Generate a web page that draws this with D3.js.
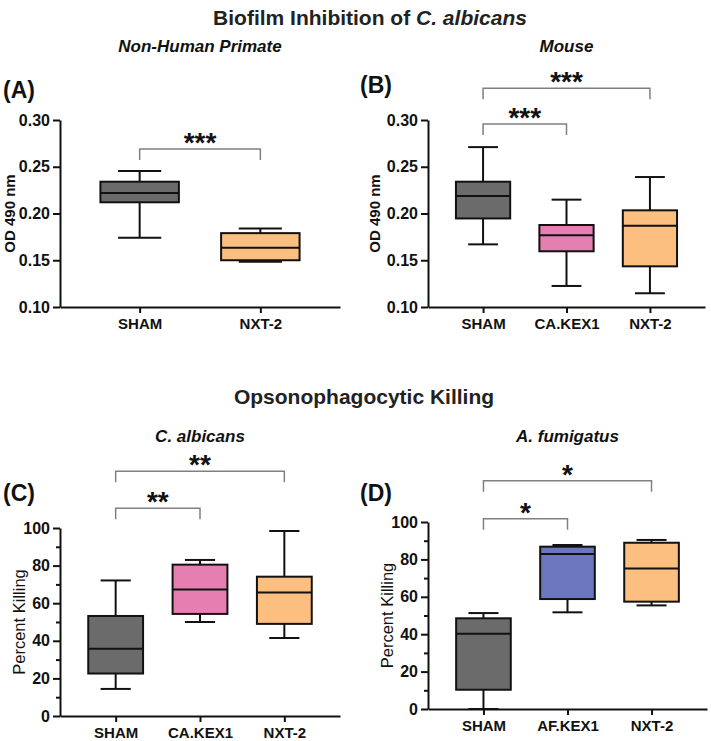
<!DOCTYPE html>
<html>
<head>
<meta charset="utf-8">
<script src="https://cdn.jsdelivr.net/npm/d3@7"></script>
<style>
    body { margin: 0; background: #fff; }
    svg { display: block; font-family: 'Liberation Sans', Arial, sans-serif; }
</style>
</head>
<body>
<div class="graph"></div>
<script>
// box stats: [min, q1, median, q3, max]
var catsA = ['SHAM', 'NXT-2'];
var statsA = [
    [0.174, 0.212, 0.222, 0.234, 0.2455],
    [0.1485, 0.150, 0.1635, 0.179, 0.184]
];
var catsB = ['SHAM', 'CA.KEX1', 'NXT-2'];
var statsB = [
    [0.167, 0.1947, 0.2187, 0.234, 0.271],
    [0.1225, 0.1596, 0.1767, 0.1877, 0.2148],
    [0.1147, 0.1435, 0.187, 0.2034, 0.239]
];
var catsC = ['SHAM', 'CA.KEX1', 'NXT-2'];
var statsC = [
    [14.4, 22.6, 35.8, 53.2, 72.1],
    [50.0, 54.3, 67.3, 80.5, 83.0],
    [41.5, 49.0, 65.7, 74.1, 98.4]
];
var catsD = ['SHAM', 'AF.KEX1', 'NXT-2'];
var statsD = [
    [0, 10.3, 40.3, 48.5, 51.3],
    [51.7, 58.8, 82.9, 86.8, 87.7],
    [55.4, 57.4, 75.2, 88.9, 90.4]
];
var fillsA = ['#6b6b6b', '#fdbf80'];
var fillsB = ['#6b6b6b', '#e67fb1', '#fdbf80'];
var fillsC = ['#6b6b6b', '#e67fb1', '#fdbf80'];
var fillsD = ['#6b6b6b', '#6c76bd', '#fdbf80'];

var odTicks = [0.10, 0.15, 0.20, 0.25, 0.30];
var pctTicks = [0, 20, 40, 60, 80, 100];
var pctMinor = [10, 30, 50, 70, 90];

// significance brackets: [from, to, level (data units), label]
var sigA = [['SHAM', 'NXT-2', 0.269, '***']];
var sigB = [['SHAM', 'CA.KEX1', 0.2957, '***'], ['SHAM', 'NXT-2', 0.334, '***']];
var sigC = [['SHAM', 'CA.KEX1', 110.5, '**'], ['SHAM', 'NXT-2', 130.2, '**']];
var sigD = [['SHAM', 'AF.KEX1', 101.7, '*'], ['SHAM', 'NXT-2', 122.0, '*']];

var svg = d3.select('.graph')
    .append('svg')
    .attr('width', 711)
    .attr('height', 741);

function drawPanel(p) {
    var g = svg.append('g');

    var xScale = d3.scalePoint()
        .domain(p.cats)
        .range([p.x0, p.x1])
        .padding(0.66);
    var yScale = d3.scaleLinear()
        .domain(p.domain)
        .range([p.yBot, p.yTop]);

    var step = xScale.step();
    var boxW = step * 0.65;
    var capW = boxW * 0.55;

    // axes
    var yAxis = d3.axisLeft(yScale)
        .tickValues(p.ticks)
        .tickFormat(p.fmt)
        .tickSize(7)
        .tickSizeOuter(0)
        .tickPadding(3);
    var yG = g.append('g')
        .attr('transform', 'translate(' + p.x0 + ',0)')
        .call(yAxis);

    if (p.minor) {
        g.append('g')
            .attr('transform', 'translate(' + p.x0 + ',0)')
            .call(d3.axisLeft(yScale).tickValues(p.minor).tickSize(4).tickSizeOuter(0).tickFormat(''))
            .call(function (s) { s.select('.domain').remove(); });
    }

    var xAxis = d3.axisBottom(xScale)
        .tickSize(6)
        .tickSizeOuter(0)
        .tickPadding(5);
    var xG = g.append('g')
        .attr('transform', 'translate(0,' + p.yBot + ')')
        .call(xAxis);

    g.selectAll('.domain, .tick line')
        .attr('stroke', '#111')
        .attr('stroke-width', 2);
    yG.selectAll('.tick text')
        .attr('font-size', 16)
        .attr('font-weight', 'bold')
        .attr('fill', '#111')
        .attr('font-family', 'Liberation Sans, Arial, sans-serif');
    xG.selectAll('.tick text')
        .attr('font-size', 15)
        .attr('font-weight', 'bold')
        .attr('fill', '#111')
        .attr('font-family', 'Liberation Sans, Arial, sans-serif');

    // boxes
    var boxes = g.selectAll('.box')
        .data(p.stats)
        .enter()
        .append('g')
        .attr('class', 'box');

    boxes.append('line')
        .attr('x1', function (d, i) { return xScale(p.cats[i]); })
        .attr('x2', function (d, i) { return xScale(p.cats[i]); })
        .attr('y1', function (d) { return yScale(d[0]); })
        .attr('y2', function (d) { return yScale(d[4]); })
        .attr('stroke', '#111')
        .attr('stroke-width', 2);

    boxes.selectAll('.cap')
        .data(function (d, i) { return [[d[0], i], [d[4], i]]; })
        .enter()
        .append('line')
        .attr('x1', function (d) { return xScale(p.cats[d[1]]) - capW / 2; })
        .attr('x2', function (d) { return xScale(p.cats[d[1]]) + capW / 2; })
        .attr('y1', function (d) { return yScale(d[0]); })
        .attr('y2', function (d) { return yScale(d[0]); })
        .attr('stroke', '#111')
        .attr('stroke-width', 2);

    boxes.append('rect')
        .attr('x', function (d, i) { return xScale(p.cats[i]) - boxW / 2; })
        .attr('y', function (d) { return yScale(d[3]); })
        .attr('width', boxW)
        .attr('height', function (d) { return yScale(d[1]) - yScale(d[3]); })
        .attr('fill', function (d, i) { return p.fills[i]; })
        .attr('stroke', '#111')
        .attr('stroke-width', 2);

    boxes.append('line')
        .attr('x1', function (d, i) { return xScale(p.cats[i]) - boxW / 2; })
        .attr('x2', function (d, i) { return xScale(p.cats[i]) + boxW / 2; })
        .attr('y1', function (d) { return yScale(d[2]); })
        .attr('y2', function (d) { return yScale(d[2]); })
        .attr('stroke', '#111')
        .attr('stroke-width', 2);

    // brackets
    p.sig.forEach(function (s) {
        var xa = xScale(s[0]);
        var xb = xScale(s[1]);
        var yl = yScale(s[2]);
        g.append('path')
            .attr('d', 'M' + xa + ',' + (yl + 11) + 'V' + yl + 'H' + xb + 'V' + (yl + 11))
            .attr('fill', 'none')
            .attr('stroke', '#808080')
            .attr('stroke-width', 1.5);
        g.append('text')
            .attr('x', (xa + xb) / 2)
            .attr('y', yl + 3)
            .attr('text-anchor', 'middle')
            .attr('font-size', 28)
            .attr('font-weight', 'bold')
            .attr('fill', '#111')
            .text(s[3]);
    });

    // y title
    g.append('text')
        .attr('transform', 'translate(' + p.titleX + ',' + ((p.yTop + p.yBot) / 2) + ') rotate(-90)')
        .attr('text-anchor', 'middle')
        .attr('font-size', p.titleSize)
        .attr('font-weight', p.titleWeight)
        .attr('fill', '#111')
        .text(p.yTitle);

    // panel letter
    g.append('text')
        .attr('x', p.labelX)
        .attr('y', p.labelY)
        .attr('font-size', 23)
        .attr('font-weight', 'bold')
        .attr('fill', '#111')
        .text(p.label);

    // subtitle
    g.append('text')
        .attr('x', (p.x0 + p.x1) / 2)
        .attr('y', p.subY)
        .attr('text-anchor', 'middle')
        .attr('font-size', 17)
        .attr('font-weight', 'bold')
        .attr('font-style', 'italic')
        .attr('fill', '#111')
        .text(p.sub);
}

var fmt2 = d3.format('.2f');
var fmt0 = d3.format('d');

drawPanel({ cats: catsA, stats: statsA, fills: fillsA, sig: sigA, x0: 60, x1: 340, yTop: 120, yBot: 307,
    domain: [0.10, 0.30], ticks: odTicks, fmt: fmt2, yTitle: 'OD 490 nm', titleX: 15, titleWeight: 'bold', titleSize: 15,
    label: '(A)', labelX: 3, labelY: 98, sub: 'Non-Human Primate', subY: 52 });
drawPanel({ cats: catsB, stats: statsB, fills: fillsB, sig: sigB, x0: 428, x1: 705, yTop: 120, yBot: 307,
    domain: [0.10, 0.30], ticks: odTicks, fmt: fmt2, yTitle: 'OD 490 nm', titleX: 380, titleWeight: 'bold', titleSize: 15,
    label: '(B)', labelX: 360, labelY: 93, sub: 'Mouse', subY: 52 });
drawPanel({ cats: catsC, stats: statsC, fills: fillsC, sig: sigC, x0: 60, x1: 340, yTop: 528, yBot: 716,
    domain: [0, 100], ticks: pctTicks, minor: pctMinor, fmt: fmt0, yTitle: 'Percent Killing', titleX: 25, titleWeight: 'normal', titleSize: 16.5,
    label: '(C)', labelX: 3, labelY: 501, sub: 'C. albicans', subY: 442 });
drawPanel({ cats: catsD, stats: statsD, fills: fillsD, sig: sigD, x0: 428, x1: 707, yTop: 522, yBot: 709,
    domain: [0, 100], ticks: pctTicks, minor: pctMinor, fmt: fmt0, yTitle: 'Percent Killing', titleX: 393, titleWeight: 'normal', titleSize: 16.5,
    label: '(D)', labelX: 360, labelY: 501, sub: 'A. fumigatus', subY: 442 });

// section titles
var t1 = svg.append('text')
    .attr('x', 370)
    .attr('y', 25)
    .attr('text-anchor', 'middle')
    .attr('font-size', 21)
    .attr('font-weight', 'bold')
    .attr('fill', '#222');
t1.append('tspan').text('Biofilm Inhibition of ');
t1.append('tspan').attr('font-style', 'italic').text('C. albicans');

svg.append('text')
    .attr('x', 364)
    .attr('y', 404)
    .attr('text-anchor', 'middle')
    .attr('font-size', 21)
    .attr('font-weight', 'bold')
    .attr('fill', '#222')
    .text('Opsonophagocytic Killing');
</script>
</body>
</html>
